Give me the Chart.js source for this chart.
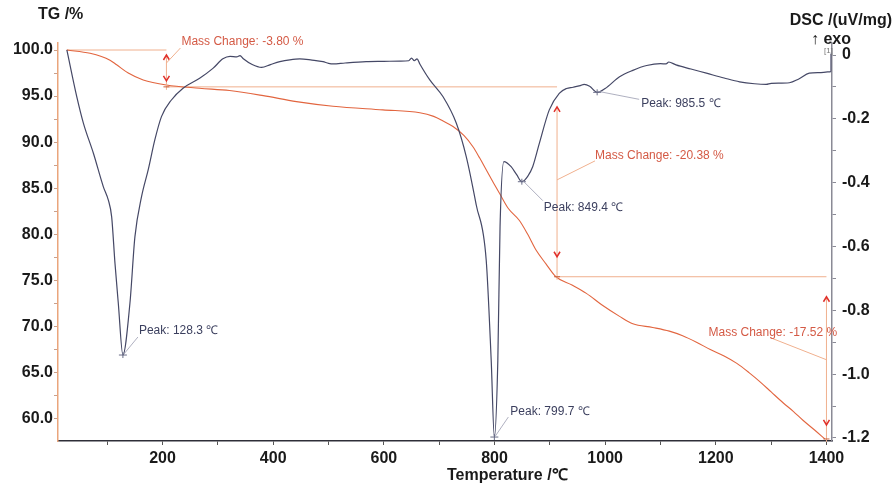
<!DOCTYPE html>
<html>
<head>
<meta charset="utf-8">
<script src="https://cdn.jsdelivr.net/npm/chart.js@4.4.1/dist/chart.umd.min.js"></script>
<style>
  html, body { margin: 0; padding: 0; background: #fff; }
  #wrap { width: 894px; height: 489px; }
</style>
</head>
<body>
<div id="wrap"><canvas id="thermo" width="894" height="489"></canvas></div>
<script>
// TG curve (temperature in C, mass in %)
const tgTemps = [27, 69, 105, 117, 138, 165, 207, 267, 321, 382, 442, 508, 598, 665, 690, 707, 725, 745, 761, 773, 785, 797, 809, 825, 845, 860, 875, 893, 911, 940, 966, 995, 1026, 1050, 1086, 1116, 1140, 1165, 1190, 1215, 1238, 1260, 1280, 1300, 1322, 1340, 1358, 1378, 1397];
const tgValues = [100, 99.64, 98.9, 98.4, 97.5, 96.75, 96.2, 95.85, 95.6, 95.05, 94.4, 93.9, 93.5, 93.2, 92.8, 92.3, 91.7, 90.7, 89.5, 88.3, 87.0, 85.7, 84.45, 82.8, 81.5, 80.0, 78.3, 76.8, 75.4, 74.5, 73.6, 72.3, 71.1, 70.3, 69.9, 69.5, 69.0, 68.3, 67.5, 66.8, 66.0, 65.0, 64.0, 62.9, 61.7, 60.8, 59.8, 58.8, 57.8];

// DSC curve (uV/mg)
const dscTemps = [27, 45, 57, 75, 93, 102, 108, 114, 120, 128.3, 141, 150, 162, 174, 186, 198, 216, 237, 267, 291, 309, 322, 334, 340, 346, 362, 379, 395, 412, 430, 448, 470, 490, 500, 508, 530, 568, 600, 629, 645, 650, 655, 660, 665, 683, 707, 731, 749, 767, 785, 794, 799.7, 806, 810, 817, 830, 840, 849.4, 860, 869, 881, 899, 917, 930, 942, 955, 962, 972, 985.5, 1000, 1026, 1050, 1075, 1100, 1110, 1115, 1128, 1155, 1183, 1215, 1243, 1270, 1291, 1300, 1333, 1350, 1369, 1390, 1408];
const dscValues = [0.016, -0.131, -0.214, -0.308, -0.413, -0.455, -0.507, -0.653, -0.778, -0.940, -0.778, -0.57, -0.444, -0.36, -0.266, -0.193, -0.141, -0.104, -0.073, -0.042, -0.012, -0.004, -0.006, -0.002, -0.012, -0.030, -0.039, -0.030, -0.021, -0.015, -0.012, -0.016, -0.021, -0.026, -0.028, -0.025, -0.021, -0.020, -0.019, -0.018, -0.010, -0.018, -0.012, -0.028, -0.078, -0.131, -0.214, -0.319, -0.47, -0.643, -0.956, -1.197, -0.956, -0.538, -0.334, -0.350, -0.375, -0.397, -0.380, -0.350, -0.277, -0.172, -0.120, -0.105, -0.101, -0.096, -0.092, -0.098, -0.117, -0.105, -0.068, -0.048, -0.033, -0.027, -0.028, -0.022, -0.031, -0.044, -0.057, -0.072, -0.084, -0.090, -0.092, -0.089, -0.087, -0.075, -0.057, -0.055, -0.052];

// axis ticks
const tempTicks = [200, 400, 600, 800, 1000, 1200, 1400];
const tempMinor = [100, 300, 500, 700, 900, 1100, 1300];
const tgTicks = [60, 65, 70, 75, 80, 85, 90, 95, 100];
const tgMinor = [62.5, 67.5, 72.5, 77.5, 82.5, 87.5, 92.5, 97.5];
const dscTicks = [-1.2, -1.0, -0.8, -0.6, -0.4, -0.2, 0];
const dscMinor = [-1.1, -0.9, -0.7, -0.5, -0.3, -0.1];

// evaluated peaks and mass steps
const peakTemps = [128.3, 799.7, 849.4, 985.5];
const peakDsc = [-0.940, -1.197, -0.397, -0.117];
const massTemps = [207, 913, 1400];
const massLevels = [100, 96.0, 75.4, 57.8];
const massChanges = [-3.80, -20.38, -17.52];

// label placement, pixels relative to the marked point
const peakLabelOffsets = [[16, -24], [16, -25], [22, 26], [44, 11]];
const peakLeaderEnds = [[15, -18], [14, -20], [21, 19], [42, 7]];
const massLabelOffsets = [[15, -8], [38, 69], [-118, 56]];
const massLeaderStart = [13, 93, 83];
const massLeaderEnds = [[14, -2], [38, 74], [-56, 61]];
const massArrowInsets = [[5, 6], [20, 20], [20, 14]];

const TG_COLOR = '#e2653f';
const DSC_COLOR = '#454866';
const GUIDE_COLOR = '#f0b08e';
const ARROW_COLOR = '#e0302a';
const MASS_TEXT = '#d45a45';
const PEAK_TEXT = '#3b3f5e';
const FONT = '"Liberation Sans", Arial, sans-serif';

function pairs(xs, ys) {
  return xs.map((x, i) => ({ x: x, y: ys[i] }));
}

function tickSetter(major, minor) {
  return function (scale) {
    scale.ticks = major.concat(minor).sort((a, b) => a - b).map(v => ({ value: v }));
  };
}

function isMajor(list, v) {
  return list.some(m => Math.abs(m - v) < 1e-6);
}

function line(ctx, x1, y1, x2, y2) {
  ctx.beginPath();
  ctx.moveTo(x1, y1);
  ctx.lineTo(x2, y2);
  ctx.stroke();
}

function chevron(ctx, x, y, up) {
  const d = up ? 1 : -1;
  ctx.beginPath();
  ctx.moveTo(x - 3, y + 5 * d);
  ctx.lineTo(x, y);
  ctx.lineTo(x + 3, y + 5 * d);
  ctx.stroke();
}

const notesPlugin = {
  id: 'thermoNotes',
  beforeDatasetsDraw(chart) {
    const { ctx } = chart;
    const x = chart.scales.x, yTG = chart.scales.yTG;
    ctx.save();
    ctx.strokeStyle = GUIDE_COLOR;
    ctx.lineWidth = 1;
    // level lines of the mass steps
    for (let i = 0; i < massTemps.length; i++) {
      const x0 = x.getPixelForValue(i === 0 ? tgTemps[0] : massTemps[i - 1]);
      const x1 = x.getPixelForValue(massTemps[i]);
      const yl = yTG.getPixelForValue(massLevels[i]);
      line(ctx, x0, yl, x1, yl);
    }
    ctx.restore();
  },
  afterDatasetsDraw(chart) {
    const { ctx } = chart;
    const x = chart.scales.x, yTG = chart.scales.yTG, yDSC = chart.scales.yDSC;
    ctx.save();

    // mass change brackets
    for (let i = 0; i < massTemps.length; i++) {
      const bx = x.getPixelForValue(massTemps[i]);
      const yTop = yTG.getPixelForValue(massLevels[i]);
      const yBot = yTG.getPixelForValue(massLevels[i + 1]);
      const ins = massArrowInsets[i];
      ctx.strokeStyle = GUIDE_COLOR;
      ctx.lineWidth = 1;
      line(ctx, bx, yTop + ins[0], bx, yBot + 3);
      ctx.strokeStyle = ARROW_COLOR;
      ctx.lineWidth = 1.5;
      chevron(ctx, bx, yTop + ins[0], true);
      chevron(ctx, bx, yBot - ins[1], false);
      // end mark on the curve
      ctx.strokeStyle = '#c8603c';
      ctx.lineWidth = 1;
      line(ctx, bx - 3, yBot, bx + 3, yBot);
      // leader + text
      const lo = massLabelOffsets[i], le = massLeaderEnds[i];
      ctx.strokeStyle = GUIDE_COLOR;
      line(ctx, bx, yTop + massLeaderStart[i], bx + le[0], yTop + le[1]);
      ctx.fillStyle = MASS_TEXT;
      ctx.font = '12px ' + FONT;
      ctx.textAlign = 'left';
      ctx.textBaseline = 'middle';
      ctx.fillText('Mass Change: ' + massChanges[i].toFixed(2) + ' %', bx + lo[0], yTop + lo[1]);
    }

    // DSC peaks
    for (let i = 0; i < peakTemps.length; i++) {
      const px = x.getPixelForValue(peakTemps[i]);
      const py = yDSC.getPixelForValue(peakDsc[i]);
      ctx.strokeStyle = '#6a6d88';
      ctx.lineWidth = 1;
      line(ctx, px - 4, py, px + 4, py);
      line(ctx, px, py - 3, px, py + 3);
      ctx.strokeStyle = '#9a9cb0';
      ctx.lineWidth = 0.8;
      const le = peakLeaderEnds[i], lo = peakLabelOffsets[i];
      line(ctx, px + 1, py - 1, px + le[0], py + le[1]);
      ctx.fillStyle = PEAK_TEXT;
      ctx.font = '12px ' + FONT;
      ctx.textAlign = 'left';
      ctx.textBaseline = 'middle';
      ctx.fillText('Peak: ' + peakTemps[i].toFixed(1) + ' \u2103', px + lo[0], py + lo[1]);
    }

    // segment marker at the end of the DSC run
    const ex = x.getPixelForValue(dscTemps[dscTemps.length - 1]);
    const ey = yDSC.getPixelForValue(dscValues[dscValues.length - 1]);
    ctx.strokeStyle = DSC_COLOR;
    ctx.lineWidth = 1;
    line(ctx, ex, ey, ex, ey - 18);
    ctx.fillStyle = '#777';
    ctx.font = '8px ' + FONT;
    ctx.textAlign = 'right';
    ctx.fillText('[1]', ex + 2, ey - 21);

    // axis titles
    ctx.fillStyle = '#1a1a1a';
    ctx.font = 'bold 16px ' + FONT;
    ctx.textAlign = 'left';
    ctx.textBaseline = 'middle';
    ctx.fillText('TG /%', 38, 15);
    ctx.textAlign = 'right';
    ctx.fillText('DSC /(uV/mg)', 892, 21);
    ctx.fillText('\u2191 exo', 851, 40);
    ctx.textAlign = 'left';
    ctx.fillText('Temperature /\u2103', 447, 476);
    ctx.restore();
  }
};

const tickFont = { family: FONT, size: 16, weight: 'bold' };

new Chart(document.getElementById('thermo'), {
  type: 'scatter',
  data: {
    datasets: [
      {
        label: 'DSC',
        data: pairs(dscTemps, dscValues),
        yAxisID: 'yDSC',
        showLine: true,
        borderColor: DSC_COLOR,
        borderWidth: 1.2,
        pointRadius: 0,
        cubicInterpolationMode: 'monotone'
      },
      {
        label: 'TG',
        data: pairs(tgTemps, tgValues),
        yAxisID: 'yTG',
        showLine: true,
        borderColor: TG_COLOR,
        borderWidth: 1.1,
        pointRadius: 0,
        cubicInterpolationMode: 'monotone'
      }
    ]
  },
  options: {
    responsive: false,
    animation: false,
    layout: { padding: { top: 43, left: 0, right: 0, bottom: 0 } },
    plugins: {
      legend: { display: false },
      tooltip: { enabled: false }
    },
    scales: {
      x: {
        type: 'linear',
        position: 'bottom',
        min: 11,
        max: 1410,
        afterBuildTicks: tickSetter(tempTicks, tempMinor),
        afterFit: (s) => { s.height = 48; },
        ticks: {
          autoSkip: false,
          maxRotation: 0,
          padding: 4,
          color: '#1a1a1a',
          font: tickFont,
          callback: (v) => isMajor(tempTicks, v) ? String(v) : ''
        },
        grid: { drawOnChartArea: false, drawTicks: true, tickLength: 4, color: '#555' },
        border: { display: true, color: '#2e2e38', width: 1.5 }
      },
      yTG: {
        type: 'linear',
        position: 'left',
        min: 57.58,
        max: 100.76,
        afterBuildTicks: tickSetter(tgTicks, tgMinor),
        afterFit: (s) => { s.width = 58; },
        ticks: {
          autoSkip: false,
          padding: 1,
          color: '#1a1a1a',
          font: tickFont,
          callback: (v) => isMajor(tgTicks, v) ? v.toFixed(1) : ''
        },
        grid: { drawOnChartArea: false, drawTicks: true, tickLength: 4, color: '#c9a08c' },
        border: { display: true, color: '#eaa57c', width: 1.5 }
      },
      yDSC: {
        type: 'linear',
        position: 'right',
        min: -1.2094,
        max: 0.0376,
        afterBuildTicks: tickSetter(dscTicks, dscMinor),
        afterFit: (s) => { s.width = 62; },
        ticks: {
          autoSkip: false,
          padding: 6,
          color: '#1a1a1a',
          font: tickFont,
          callback: (v) => isMajor(dscTicks, v) ? (Math.abs(v) < 1e-9 ? '0' : v.toFixed(1)) : ''
        },
        grid: { drawOnChartArea: false, drawTicks: true, tickLength: 4, color: '#8a8a95' },
        border: { display: true, color: '#8a8a95', width: 1.5 }
      }
    }
  },
  plugins: [notesPlugin]
});
</script>
</body>
</html>
